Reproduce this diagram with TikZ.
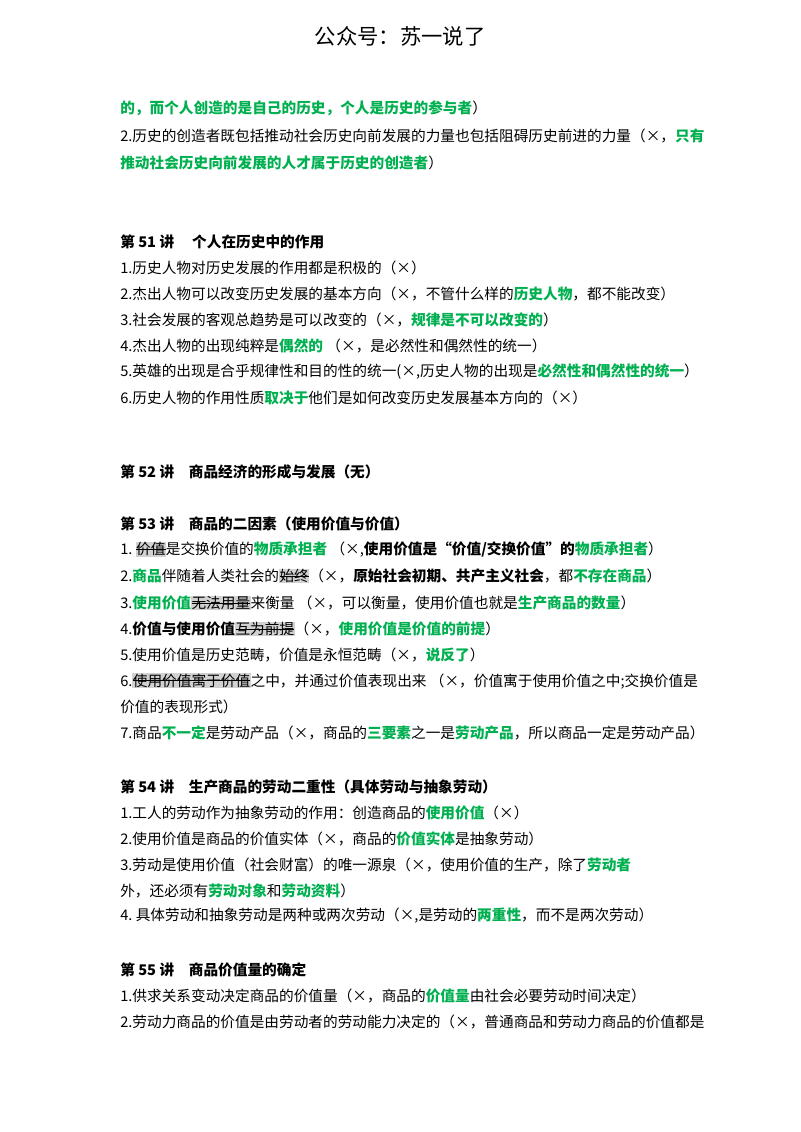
\documentclass[tikz,border=0pt]{standalone}
\usepackage{fontspec}
\setmainfont{Noto Sans CJK SC}
\definecolor{gr}{RGB}{0,176,80}
\newcommand\g[1]{\textcolor{gr}{\textbf{#1}}}
\newcommand\dl[1]{{\setbox0\hbox{#1}\setlength{\fboxsep}{0.3pt}\colorbox{black!18}{\rlap{\rule[0.35em]{\wd0}{0.5pt}}\box0}}}
\begin{document}
\begin{tikzpicture}[x=0.75pt,y=-0.75pt,
  t/.style={anchor=west,inner sep=0pt,font=\fontsize{11}{13}\selectfont},
  h/.style={t,font=\fontsize{11}{13}\selectfont\bfseries}]
\useasboundingbox (0,0) rectangle (800,1132);
\node[inner sep=0pt,font=\fontsize{16}{18}\selectfont] (title) at (400,36) {公众号：苏一说了};
\node[t] (a1) at (120,108) {\g{的，而个人创造的是自己的历史，个人是历史的参与者}）};
\node[t] (a2) at (120,136) {2.历史的创造者既包括推动社会历史向前发展的力量也包括阻碍历史前进的力量（×，\g{只有}};
\node[t] (a3) at (120,163) {\g{推动社会历史向前发展的人才属于历史的创造者}）};
\node[h] (h51) at (120,242) {第 51 讲\quad\ 个人在历史中的作用};
\node[t] (b1) at (120,268) {1.历史人物对历史发展的作用都是积极的（×）};
\node[t] (b2) at (120,294) {2.杰出人物可以改变历史发展的基本方向（×，不管什么样的\g{历史人物}，都不能改变）};
\node[t] (b3) at (120,320) {3.社会发展的客观总趋势是可以改变的（×，\g{规律是不可以改变的}）};
\node[t] (b4) at (120,346) {4.杰出人物的出现纯粹是\g{偶然的}\ （×，是必然性和偶然性的统一）};
\node[t] (b5) at (120,372) {5.英雄的出现是合乎规律性和目的性的统一(×,历史人物的出现是\g{必然性和偶然性的统一}）};
\node[t] (b6) at (120,398) {6.历史人物的作用性质\g{取决于}他们是如何改变历史发展基本方向的（×）};
\node[h] (h52) at (120,472) {第 52 讲\quad 商品经济的形成与发展（无）};
\node[h] (h53) at (120,524) {第 53 讲\quad 商品的二因素（使用价值与价值）};
\node[t] (c1) at (120,550) {1.\ \dl{价值}是交换价值的\g{物质承担者}\ （×,\textbf{使用价值是“价值/交换价值”的}\g{物质承担者}）};
\node[t] (c2) at (120,576) {2.\g{商品}伴随着人类社会的\dl{始终}（×，\textbf{原始社会初期、共产主义社会}，都\g{不存在商品}）};
\node[t] (c3) at (120,603) {3.\g{使用价值}\dl{无法用量}来衡量\ （×，可以衡量，使用价值也就是\g{生产商品的数量}）};
\node[t] (c4) at (120,629) {4.\textbf{价值与使用价值}\dl{互为前提}（×，\g{使用价值是价值的前提}）};
\node[t] (c5) at (120,655) {5.使用价值是历史范畴，价值是永恒范畴（×，\g{说反了}）};
\node[t] (c6) at (120,681) {6.\dl{使用价值寓于价值}之中，并通过价值表现出来\ （×，价值寓于使用价值之中;交换价值是};
\node[t] (c6b) at (120,707) {价值的表现形式）};
\node[t] (c7) at (120,733) {7.商品\g{不一定}是劳动产品（×，商品的\g{三要素}之一是\g{劳动产品}，所以商品一定是劳动产品）};
\node[h] (h54) at (120,787) {第 54 讲\quad 生产商品的劳动二重性（具体劳动与抽象劳动）};
\node[t] (d1) at (120,813) {1.工人的劳动作为抽象劳动的作用：创造商品的\g{使用价值}（×）};
\node[t] (d2) at (120,839) {2.使用价值是商品的价值实体（×，商品的\g{价值实体}是抽象劳动）};
\node[t] (d3) at (120,865) {3.劳动是使用价值（社会财富）的唯一源泉（×，使用价值的生产，除了\g{劳动者}};
\node[t] (d3b) at (120,891) {外，还必须有\g{劳动对象}和\g{劳动资料}）};
\node[t] (d4) at (120,916) {4.\ 具体劳动和抽象劳动是两种或两次劳动（×,是劳动的\g{两重性}，而不是两次劳动）};
\node[h] (h55) at (120,970) {第 55 讲\quad 商品价值量的确定};
\node[t] (e1) at (120,996) {1.供求关系变动决定商品的价值量（×，商品的\g{价值量}由社会必要劳动时间决定）};
\node[t] (e2) at (120,1022) {2.劳动力商品的价值是由劳动者的劳动能力决定的（×，普通商品和劳动力商品的价值都是};
\end{tikzpicture}
\end{document}
